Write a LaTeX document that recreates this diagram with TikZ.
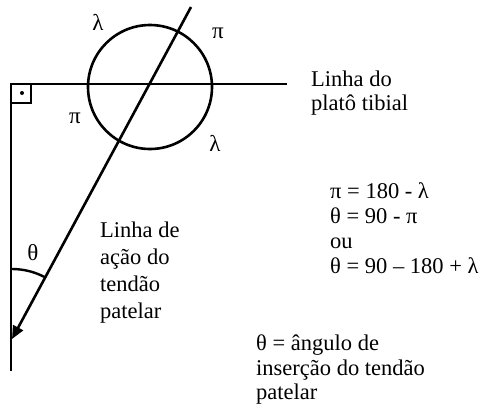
\documentclass[tikz,border=0pt]{standalone}
\usepackage{fontspec}
\setmainfont{Liberation Serif}
\usetikzlibrary{arrows.meta}
\begin{document}
\begin{tikzpicture}[x=1pt,y=-1pt,
  thick line/.style={line width=2.6pt},
  txt/.style={anchor=base west,inner sep=0pt,font=\fontsize{22.5}{25}\selectfont},
  greek/.style={inner sep=0pt,font=\fontsize{23}{25}\selectfont}]
\useasboundingbox (0,0) rectangle (487,408);
% main geometry
\coordinate (corner) at (11,84);
\coordinate (hend) at (287,84);
\coordinate (vend) at (11,371);
\coordinate (top) at (191,7);
\coordinate (tip) at (12,339);
\coordinate (c) at (150,87);
\draw[thick line] (hend) -- (corner) -- (vend);
\draw[thick line] (c) circle (62);
\draw[thick line,-{Triangle[length=13pt,width=11pt]}] (top) -- (tip);
% right angle mark
\draw[line width=1.3pt] (11,103) -- (31,103) -- (31,84);
\fill (22,93) circle (2);
% theta arc
\draw[line width=2.4pt] (tip) ++(-90:70) arc[start angle=-90,end angle=-62,radius=70];
% greek labels
\node[greek] (l1) at (98,22) {λ};
\node[greek] (p1) at (218,33) {π};
\node[greek] (p2) at (75,118) {π};
\node[greek] (l2) at (215,143) {λ};
\node[greek] (th) at (33,253) {θ};
% text blocks
\node[txt] (a1) at (311,86) {Linha do};
\node[txt] (a2) at (311,110) {platô tibial};
\node[txt] (e1) at (330,198) {π = 180 - λ};
\node[txt] (e2) at (330,223) {θ = 90 - π};
\node[txt] (e3) at (330,248) {ou};
\node[txt] (e4) at (330,273) {θ = 90 – 180 + λ};
\node[txt] (b1) at (100,237) {Linha de};
\node[txt] (b2) at (100,264) {ação do};
\node[txt] (b3) at (100,291) {tendão};
\node[txt] (b4) at (100,318) {patelar};
\node[txt] (d1) at (256,350) {θ = ângulo de};
\node[txt] (d2) at (256,375) {inserção do tendão};
\node[txt] (d3) at (256,399) {patelar};
\end{tikzpicture}
\end{document}
